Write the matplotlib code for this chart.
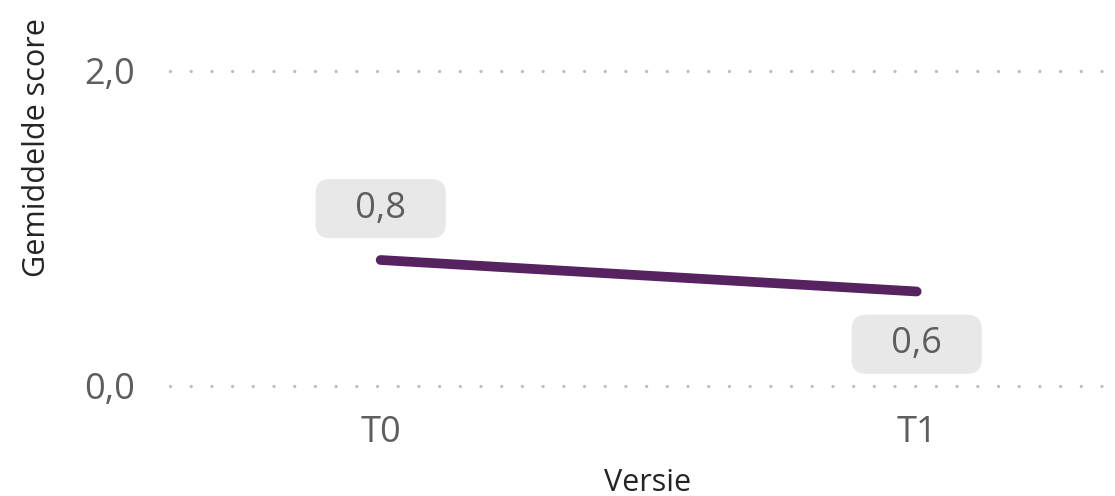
import matplotlib.pyplot as plt

plt.rcParams['font.family'] = ['Open Sans', 'DejaVu Sans']

# data
versies = ['T0', 'T1']
scores = [0.8, 0.6]
labels = ['0,8', '0,6']
yticks = [0.0, 2.0]
ytick_labels = ['0,0', '2,0']

fig = plt.figure(figsize=(11.15, 4.96), dpi=100)
ax = fig.add_axes([170 / 1115, 110 / 496, 945 / 1115, 315 / 496])

x = list(range(len(versies)))
ax.plot(x, scores, color='#56225F', linewidth=7, solid_capstyle='round', clip_on=False)

# labels boven / onder de punten
offsets = [37, -38]
for xi, yi, lab, off in zip(x, scores, labels, offsets):
    ax.annotate('   ' + lab + '   ', (xi, yi), xytext=(0, off), textcoords='offset points',
                ha='center', va='center', fontsize=26, color='#605E5C',
                bbox=dict(boxstyle='round,pad=0.32,rounding_size=0.4', fc='#E8E8E8', ec='none'))

ax.set_xlim(-0.393, 1.37)
ax.set_ylim(0, 2)
ax.set_yticks(yticks)
ax.set_yticklabels(ytick_labels)
ax.set_xticks(x)
ax.set_xticklabels(versies)
ax.tick_params(axis='both', length=0, labelsize=26, labelcolor='#605E5C')
ax.tick_params(axis='y', pad=25)
ax.tick_params(axis='x', pad=21)

for yv in yticks:
    ax.axhline(yv, color='#BEBEBE', linewidth=2.4, linestyle=(0, (0.01, 6.2)),
               dash_capstyle='round', clip_on=False, zorder=0)

for s in ax.spines.values():
    s.set_visible(False)

fig.text(37 / 1115, 1 - 148 / 496, 'Gemiddelde score', rotation=90, ha='center', va='center',
         fontsize=22, color='#252423')
fig.text(648 / 1115, 1 - 483 / 496, 'Versie', ha='center', va='center', fontsize=22, color='#252423')

fig.savefig('out.png', dpi=100)
